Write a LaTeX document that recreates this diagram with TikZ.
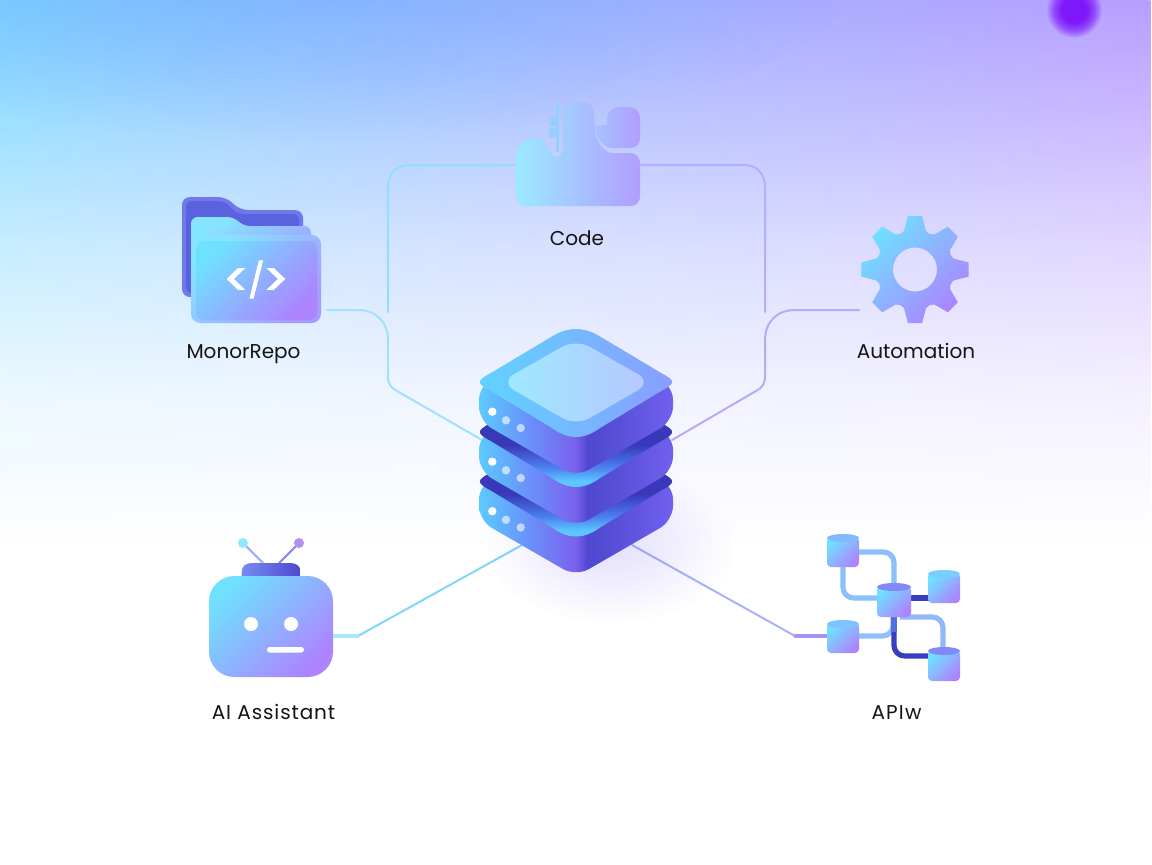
\documentclass[tikz,border=0pt]{standalone}
\usepackage{fontspec}
\setmainfont{Poppins}
\newfontfamily\glyphfont[FakeBold=3.5]{Poppins}
\usetikzlibrary{fadings}
\definecolor{bgA}{HTML}{78D4FF}
\definecolor{bgB}{HTML}{A0B4FF}
\definecolor{bgC}{HTML}{B89EFF}
\definecolor{wA}{HTML}{5CCAFF}
\definecolor{wB}{HTML}{6A90FA}
\definecolor{wC}{HTML}{7A62EE}
\definecolor{wD}{HTML}{5048D0}
\definecolor{wE}{HTML}{5A50D8}
\definecolor{wF}{HTML}{7060EE}
\definecolor{sD}{HTML}{3838B8}
\definecolor{sM}{HTML}{4C80EE}
\definecolor{sL}{HTML}{5CC6FF}
\definecolor{icoA}{HTML}{70E0FF}
\definecolor{icoM}{HTML}{86A8FF}
\definecolor{icoB}{HTML}{AC84FF}
\definecolor{topblue}{HTML}{78A8FF}
\definecolor{blob}{HTML}{7E18FA}
\definecolor{topL}{HTML}{60D4FF}
\definecolor{topR}{HTML}{8A9CFF}
\pgfdeclarehorizontalshading{bgh}{100bp}{color(0bp)=(bgA);color(25bp)=(bgA);color(50bp)=(bgB);color(75bp)=(bgC);color(100bp)=(bgC)}
\pgfdeclareverticalshading{bgfs}{100bp}{color(0bp)=(transparent!100);color(43.5bp)=(transparent!100);color(52bp)=(transparent!86);color(60.5bp)=(transparent!60);color(67.5bp)=(transparent!30);color(75bp)=(transparent!0);color(100bp)=(transparent!0)}
\tikzfading[name=bgf,shading=bgfs]
\pgfdeclarehorizontalshading{wallh}{100bp}{color(0bp)=(wA);color(25bp)=(wA);color(38bp)=(wB);color(49.7bp)=(wC);color(53bp)=(wD);color(61bp)=(wE);color(75bp)=(wF);color(100bp)=(wF)}
\pgfdeclareverticalshading{surfv}{100bp}{color(0bp)=(sL);color(29bp)=(sL);color(35bp)=(sM);color(45bp)=(sD);color(100bp)=(sD)}
\pgfdeclareradialshading{blobs}{\pgfpointorigin}{color(0bp)=(transparent!0);color(11bp)=(transparent!0);color(18bp)=(transparent!35);color(25bp)=(transparent!100);color(50bp)=(transparent!100)}
\tikzfading[name=blobf,shading=blobs]
\tikzfading[name=softf,inner color=transparent!0,outer color=transparent!100]
\tikzset{
  conn/.style={line width=1.5pt,line cap=round,line join=round},
  pipe/.style={line width=3.9pt,line join=round},
  ico/.style={left color=icoA,middle color=icoM,right color=icoB,shading angle=45},
  lbl/.style={text=black!92,font=\fontsize{15}{17}\selectfont,inner sep=0pt,anchor=base},
}
\newcommand{\srvlayer}[2]{%
  \begin{scope}[shift={(0,#1)}]
    \shade[shading=wallh,rounded corners=11pt] (576,345) -- (479,385) -- (479,421) -- (576,477) -- (673,421) -- (673,385) -- cycle;
    \shade[#2] (552,336.5) .. controls (568,326.5) and (584,326.5) .. (600,336.5) -- (662,373.5) .. controls (675.5,380.5) and (675.5,383.5) .. (662,390.5) -- (600,428) .. controls (584,440) and (568,440) .. (552,428) -- (490,390.5) .. controls (476.5,383.5) and (476.5,380.5) .. (490,373.5) -- cycle;
  \end{scope}}
\newcommand{\srvdots}[1]{%
  \begin{scope}[shift={(0,#1)}]
    \fill[white] (492.3,411.7) circle (4.2);
    \fill[white,opacity=.6] (506,420.3) circle (4.2);
    \fill[white,opacity=.6] (520.7,428) circle (4.2);
  \end{scope}}
\newcommand{\cyl}[5]{% x0 y0 x1 y1 topcolour
  \shade[ico,rounded corners=3pt] (#1,#2+3) rectangle (#3,#4);
  \fill[#5] (#1,#2+4) arc[start angle=180,end angle=360,x radius={(#3-#1)/2},y radius=4] -- (#3,#2+4) arc[start angle=0,end angle=180,x radius={(#3-#1)/2},y radius=4] -- cycle;
}
\begin{document}
\begin{tikzpicture}[x=0.75pt,y=-0.75pt]
\useasboundingbox (0,0) rectangle (1152,864);
\clip (0,0) rectangle (1152,864);
% background
\fill[white] (0,0) rectangle (1152,864);
\shade[shading=bgh,path fading=bgf] (0,0) rectangle (1152,864);
\fill[topblue,opacity=.55,path fading=softf] (300,-30) ellipse (560 and 170);
\fill[blob,path fading=blobf] (1074,10) circle (28);
% named ends
\coordinate (folderE) at (327,310);
\coordinate (codeW) at (516,165);
\coordinate (codeE) at (640,165);
\coordinate (gearW) at (859,310);
\coordinate (robotE) at (333,636);
\coordinate (robotK) at (358,636);
\coordinate (apiW) at (828,636);
\coordinate (apiK) at (795,636);
\coordinate (hubNW) at (482,440);
\coordinate (hubNE) at (672,440);
\coordinate (hubSW) at (522,545);
\coordinate (hubSE) at (632,545);
\coordinate (upL) at (388,312);
\coordinate (upR) at (765,312);
% connectors
\draw[conn,color={rgb,255:red,160;green,226;blue,252}] (folderE) -- (358,310) .. controls (376,310) and (388,322) .. (388,340) -- (388,376) .. controls (388,384) and (391,388) .. (397,391) -- (hubNW);
\draw[conn,color={rgb,255:red,150;green,220;blue,255}] (upL) -- (388,187) .. controls (388,174) and (396,165) .. (410,165) -- (codeW);
\draw[conn,color={rgb,255:red,172;green,178;blue,255}] (codeE) -- (744,165) .. controls (757,165) and (765,174) .. (765,187) -- (upR);
\draw[conn,color={rgb,255:red,184;green,170;blue,248}] (gearW) -- (795,310) .. controls (777,310) and (765,322) .. (765,340) -- (765,376) .. controls (765,384) and (762,388) .. (756,391) -- (hubNE);
\draw[conn,color={rgb,255:red,130;green,214;blue,250}] (robotK) -- (hubSW);
\draw[conn,line width=2.4pt,color={rgb,255:red,168;green,232;blue,252}] (robotE) -- (robotK);
\draw[conn,color={rgb,255:red,168;green,178;blue,248}] (hubSE) -- (apiK);
\draw[conn,line width=2.4pt,color={rgb,255:red,168;green,146;blue,240}] (apiK) -- (apiW);
% server shadow
\fill[color={rgb,255:red,130;green,110;blue,245},opacity=.22,path fading=softf] (610,545) ellipse (125 and 78);
% server
\srvlayer{99.5}{shading=surfv}
\srvdots{99.5}
\srvlayer{50}{shading=surfv}
\srvdots{50}
\srvlayer{0}{left color=topL,right color=topR}
\srvdots{0}
\shade[left color=icoA!68!white,right color=bgB!75!white,rounded corners=12pt] (576,339) -- (500,382) -- (576,426) -- (652,382) -- cycle;
\node[inner sep=0pt] (hub) at (576,450) {};
% folder
\fill[color={rgb,255:red,112;green,120;blue,236},rounded corners=6pt] (182,297) -- (182,197) -- (226,197) -- (240,210) -- (303,210) -- (303,240) -- (200,297) -- cycle;
\fill[color={rgb,255:red,90;green,98;blue,222},rounded corners=4pt] (186,293) -- (186,201) -- (224,201) -- (238,214) -- (299,214) -- (299,240) -- (200,293) -- cycle;
\shade[left color=icoA!85!white,right color=icoB,shading angle=30,rounded corners=5pt] (191,300) -- (191,217) -- (234,217) -- (243,226) -- (311,226) -- (311,300) -- cycle;
\shade[left color=icoA!85!white,right color=icoB!50!bgB,shading angle=45,rounded corners=7pt] (191,323) -- (191,235) -- (321,235) -- (321,323) -- cycle;
\shade[ico,rounded corners=6pt] (196,241) rectangle (317,320);
\node[inner sep=0pt,text=white] (codeglyph) at (256,279.5) {\glyphfont\fontsize{33}{35}\selectfont <\raisebox{2pt}{\fontsize{25}{27}\selectfont /}>};
\node[lbl] (lblrepo) at (243.5,358) {MonorRepo};
% code icon
\shade[left color=icoA!70!white,right color=icoB!70!bgB!90!white] (525,206) .. controls (520,206) and (516,202) .. (516,197) -- (516,160) .. controls (516,146) and (526,138) .. (536,138) .. controls (549,138) and (548,157) .. (557,157) .. controls (562,157) and (563,150) .. (563,142) -- (562,114) .. controls (562,106) and (568,102) .. (574,102) -- (584,102) .. controls (590,102) and (594,107) .. (594,114) -- (595,132) .. controls (597,142) and (603,152) .. (612,153) -- (630,153) .. controls (636,153) and (640,157) .. (640,163) -- (640,197) .. controls (640,202) and (636,206) .. (631,206) -- cycle;
\shade[left color=icoM!72!white,right color=icoB!70!bgB!90!white] (596,125) -- (605,125) .. controls (607,125) and (607,124) .. (607,122) -- (607,120) .. controls (607,112) and (612,107) .. (620,107) -- (628,107) .. controls (636,107) and (640,112) .. (640,118) -- (640,138) .. controls (640,144) and (636,148) .. (630,148) -- (612,148) .. controls (604,147) and (597,140) .. (596,130) -- cycle;
\fill[color={rgb,255:red,150;green,206;blue,255}] (556,104) rectangle (558.5,152);
\fill[color={rgb,255:red,150;green,206;blue,255},opacity=.9,rounded corners=1pt] (549,117) rectangle (556,126.5);
\fill[color={rgb,255:red,150;green,206;blue,255},opacity=.9,rounded corners=1pt] (549,128) rectangle (556,137.5);
\node[lbl] (lblcode) at (577,245) {Code};
% gear
\begin{scope}[shift={(915,269.5)}]
\shade[ico,even odd rule] (106:40) \foreach \a in {0,-45,...,-315}{
   -- ({106+\a}:40) -- ({97.5+\a}:54) -- ({82.5+\a}:54) -- ({74+\a}:40) -- ({67.5+\a}:38.5)
} -- cycle (0,0) circle (22);
\end{scope}
\node[lbl] (lblauto) at (916,358) {Automation};
% robot
\draw[line width=1.6pt,color={rgb,255:red,160;green,176;blue,250}] (263,563) -- (243,543);
\draw[line width=1.6pt,color={rgb,255:red,144;green,136;blue,240}] (279,563) -- (299,543);
\fill[color={rgb,255:red,144;green,232;blue,255}] (243,543) circle (5);
\fill[color={rgb,255:red,176;green,144;blue,240}] (299,543) circle (5);
\shade[left color=icoM!70!wD,middle color=wC,right color=wD] (241.7,578) -- (241.7,572) .. controls (241.7,566) and (246,563) .. (252,563) -- (290,563) .. controls (296,563) and (300.7,566) .. (300.7,572) -- (300.7,578) -- cycle;
\shade[ico,rounded corners=19pt] (209,576) rectangle (333,677);
\fill[white] (251,624) circle (7);
\fill[white] (291,624) circle (7);
\fill[white,rounded corners=2pt] (267,647) rectangle (304,652.5);
\node[lbl,font=\fontsize{15}{17}\selectfont\addfontfeature{LetterSpace=4.5}] (lblai) at (273.5,719) {AI Assistant};
% api network
\draw[pipe,color={rgb,255:red,140;green,192;blue,250},rounded corners=8pt] (857,552) -- (894,552) -- (894,590);
\draw[pipe,color={rgb,255:red,140;green,192;blue,250},rounded corners=8pt] (843,565) -- (843,598) -- (880,598);
\draw[pipe,color={rgb,255:red,56;green,62;blue,190}] (908,598) -- (930,598);
\draw[pipe,color={rgb,255:red,144;green,184;blue,250},rounded corners=8pt] (900,617) -- (943,617) -- (943,650);
\draw[pipe,color={rgb,255:red,144;green,192;blue,250},rounded corners=8pt] (857,636) -- (893,636) -- (893,612);
\draw[pipe,color={rgb,255:red,56;green,62;blue,190},rounded corners=8pt] (894,615) -- (894,656) -- (930,656);
\draw[pipe,color={rgb,255:red,84;green,110;blue,222}] (894,615) -- (894,632);
\cyl{827}{534}{859}{567}{icoM!70!icoA}
\cyl{877}{583}{911}{617}{icoM!55!wC}
\cyl{928}{570}{960}{603}{icoA!70!icoM}
\cyl{827}{620}{859}{653}{icoA!50!icoM}
\cyl{928}{647}{960}{681}{icoM!55!wC}
\node[lbl,font=\fontsize{15}{17}\selectfont\addfontfeature{LetterSpace=6}] (lblapi) at (896.5,719) {APIw};
\end{tikzpicture}
\end{document}
